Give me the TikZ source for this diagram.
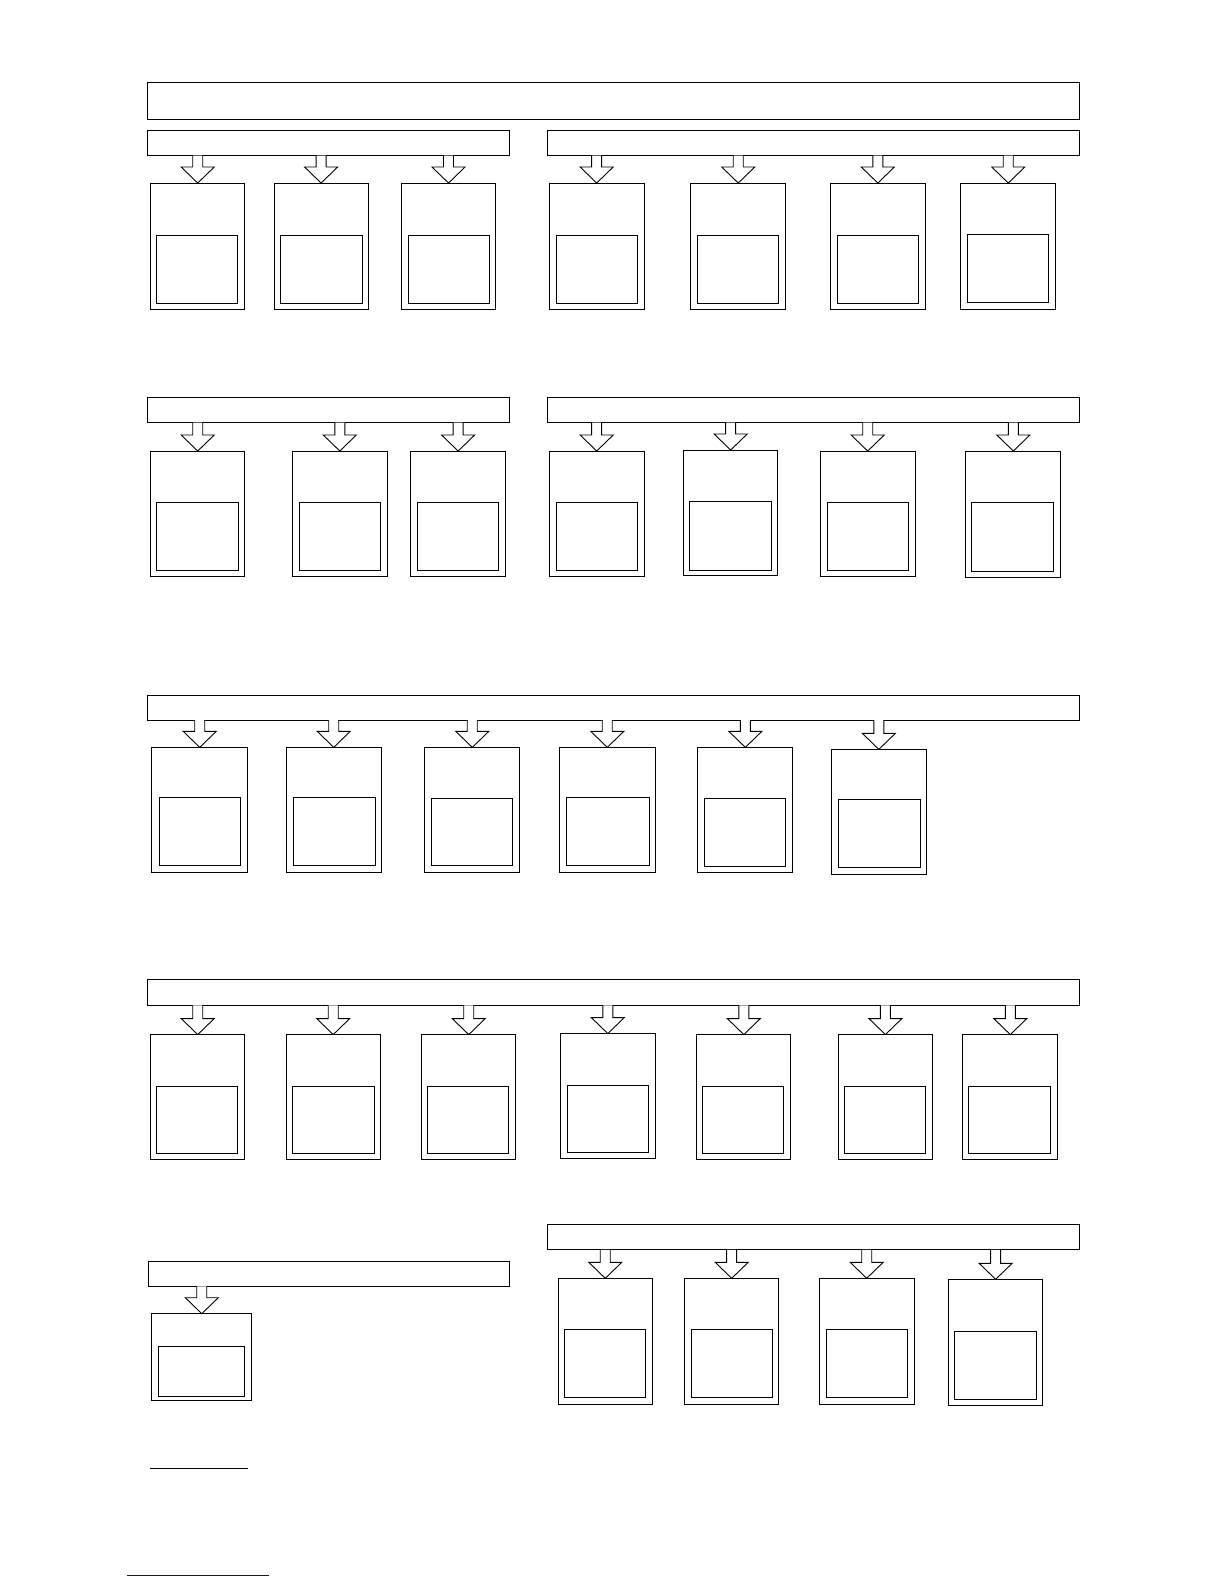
\documentclass[tikz,border=0pt]{standalone}
\usetikzlibrary{fit,calc}
\definecolor{linkblue}{RGB}{10,10,150}
\tikzset{
  frame/.style={draw=black,line width=1pt,inner sep=0pt,outer sep=0pt,fill=white},
  obox/.style={frame},
  ibox/.style={frame},
  hbar/.style={frame},
  arr/.style={draw=black,line width=0.9pt,fill=white,line join=miter},
}
\newcommand\mkbox[5]{\node[obox,fit={(#2,#3)(#4,#5)}] (#1) {};}
\newcommand\mkin[5]{\node[ibox,fit={(#2,#3)(#4,#5)}] (#1) {};}
\newcommand\mkbar[5]{\node[hbar,fit={(#2,#3)(#4,#5)}] (#1) {};}
\newcommand\blockarrow[2]{%
  \draw[arr] let \p1=(#2.north), \p2=(#1.south) in
    (\x1-5pt,\y2) -- (\x1-5pt,\y1+16pt) -- (\x1-16.5pt,\y1+16pt) -- (\x1,\y1)
    -- (\x1+16.5pt,\y1+16pt) -- (\x1+5pt,\y1+16pt) -- (\x1+5pt,\y2);}
\begin{document}
\begin{tikzpicture}[x=1.0113pt,y=-1.0113pt]
\useasboundingbox (0pt,0pt) rectangle (1224pt,-1584pt);
% top bar
\mkbar{top}{146}{82}{1067}{118}
% ---------- row A
\mkbar{aL}{146}{129}{504}{154}
\mkbar{aR}{541}{129}{1067}{154}
\mkbox{a1}{149}{181}{242}{306} \mkin{a1i}{155}{233}{235}{300}
\mkbox{a2}{271}{181}{364}{306} \mkin{a2i}{277}{233}{358}{300}
\mkbox{a3}{397}{181}{490}{306} \mkin{a3i}{404}{233}{484}{300}
\mkbox{a4}{543}{181}{637}{306} \mkin{a4i}{550}{233}{630}{300}
\mkbox{a5}{683}{181}{777}{306} \mkin{a5i}{690}{233}{770}{300}
\mkbox{a6}{821}{181}{915}{306} \mkin{a6i}{828}{233}{908}{300}
\mkbox{a7}{950}{181}{1044}{306} \mkin{a7i}{957}{232}{1037}{299}
\blockarrow{aL}{a1} \blockarrow{aL}{a2} \blockarrow{aL}{a3}
\blockarrow{aR}{a4} \blockarrow{aR}{a5} \blockarrow{aR}{a6} \blockarrow{aR}{a7}
% ---------- row B
\mkbar{bL}{146}{393}{504}{418}
\mkbar{bR}{541}{393}{1067}{418}
\mkbox{b1}{149}{446}{242}{570} \mkin{b1i}{155}{497}{236}{564}
\mkbox{b2}{289}{446}{383}{570} \mkin{b2i}{296}{497}{376}{564}
\mkbox{b3}{406}{446}{500}{570} \mkin{b3i}{413}{497}{493}{564}
\mkbox{b4}{543}{446}{637}{570} \mkin{b4i}{550}{497}{630}{564}
\mkbox{b5}{676}{445}{769}{569} \mkin{b5i}{682}{496}{763}{564}
\mkbox{b6}{811}{446}{905}{570} \mkin{b6i}{818}{497}{898}{564}
\mkbox{b7}{955}{446}{1049}{571} \mkin{b7i}{961}{497}{1042}{565}
\blockarrow{bL}{b1} \blockarrow{bL}{b2} \blockarrow{bL}{b3}
\blockarrow{bR}{b4} \blockarrow{bR}{b5} \blockarrow{bR}{b6} \blockarrow{bR}{b7}
% ---------- row C
\mkbar{cB}{146}{688}{1067}{712}
\mkbox{c1}{150}{739}{245}{863} \mkin{c1i}{158}{789}{238}{856}
\mkbox{c2}{283}{739}{377}{863} \mkin{c2i}{290}{789}{371}{856}
\mkbox{c3}{420}{739}{514}{863} \mkin{c3i}{427}{790}{507}{856}
\mkbox{c4}{553}{739}{648}{863} \mkin{c4i}{560}{789}{642}{856}
\mkbox{c5}{690}{739}{784}{863} \mkin{c5i}{697}{790}{777}{857}
\mkbox{c6}{822}{741}{916}{865} \mkin{c6i}{829}{791}{910}{858}
\blockarrow{cB}{c1} \blockarrow{cB}{c2} \blockarrow{cB}{c3}
\blockarrow{cB}{c4} \blockarrow{cB}{c5} \blockarrow{cB}{c6}
% ---------- row D
\mkbar{dB}{146}{969}{1067}{994}
\mkbox{d1}{149}{1023}{242}{1147} \mkin{d1i}{155}{1074}{235}{1141}
\mkbox{d2}{283}{1023}{376}{1147} \mkin{d2i}{289}{1074}{370}{1141}
\mkbox{d3}{417}{1023}{510}{1147} \mkin{d3i}{423}{1074}{503}{1141}
\mkbox{d4}{554}{1022}{648}{1146} \mkin{d4i}{561}{1073}{641}{1140}
\mkbox{d5}{689}{1023}{782}{1147} \mkin{d5i}{695}{1074}{775}{1141}
\mkbox{d6}{829}{1023}{922}{1147} \mkin{d6i}{835}{1074}{915}{1141}
\mkbox{d7}{952}{1023}{1046}{1147} \mkin{d7i}{958}{1074}{1039}{1141}
\blockarrow{dB}{d1} \blockarrow{dB}{d2} \blockarrow{dB}{d3}
\blockarrow{dB}{d4} \blockarrow{dB}{d5} \blockarrow{dB}{d6} \blockarrow{dB}{d7}
% ---------- row E
\mkbar{eL}{147}{1247}{504}{1272}
\mkbox{e1}{150}{1299}{249}{1385} \mkin{e1i}{157}{1331}{242}{1381}
\blockarrow{eL}{e1}
\mkbar{eR}{541}{1211}{1067}{1236}
\mkbox{e2}{552}{1264}{645}{1389} \mkin{e2i}{558}{1315}{638}{1382}
\mkbox{e3}{677}{1264}{770}{1389} \mkin{e3i}{684}{1315}{764}{1382}
\mkbox{e4}{810}{1264}{904}{1389} \mkin{e4i}{817}{1315}{897}{1382}
\mkbox{e5}{938}{1265}{1031}{1390} \mkin{e5i}{944}{1317}{1025}{1384}
\blockarrow{eR}{e2} \blockarrow{eR}{e3} \blockarrow{eR}{e4} \blockarrow{eR}{e5}
% ---------- footnote rules
\coordinate (f1) at (148,1452); \coordinate (f2) at (245,1452);
\draw[line width=1pt] (f1) -- (f2);
\coordinate (g1) at (126,1558); \coordinate (g2) at (266,1558);
\draw[linkblue,line width=1pt] (g1) -- (g2);
\end{tikzpicture}
\end{document}
